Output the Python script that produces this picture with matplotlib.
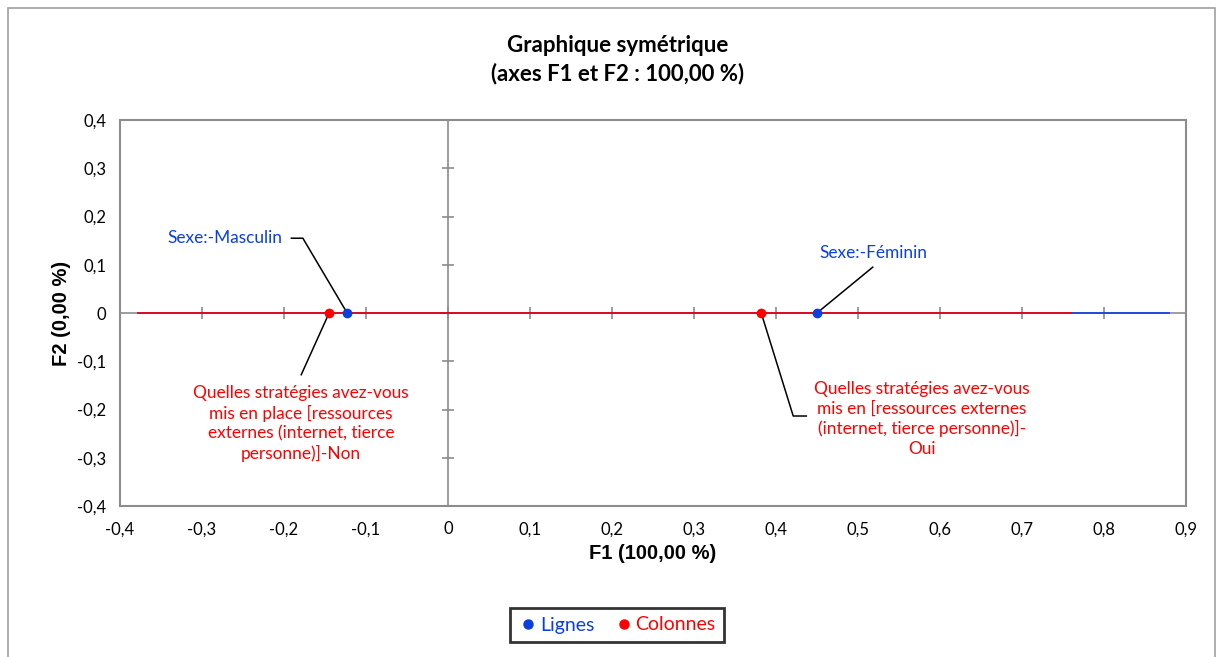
import matplotlib.pyplot as plt
import matplotlib.patches as patches
from matplotlib.lines import Line2D

# --- data ---
row_labels = ['Sexe:-Masculin', 'Sexe:-Féminin']
row_f1 = [-0.123, 0.450]
row_f2 = [0.0, 0.0]

col_labels = ['Quelles stratégies avez-vous\nmis en place [ressources\nexternes (internet, tierce\npersonne)]-Non',
              'Quelles stratégies avez-vous\nmis en [ressources externes\n(internet, tierce personne)]-\nOui']
col_f1 = [-0.145, 0.382]
col_f2 = [0.0, 0.0]

# extent of the lines drawn along F1 for each series
row_line_f1 = [-0.378, 0.879]
col_line_f1 = [-0.378, 0.760]

x_ticks = [-0.4, -0.3, -0.2, -0.1, 0, 0.1, 0.2, 0.3, 0.4, 0.5, 0.6, 0.7, 0.8, 0.9]
y_ticks = [-0.4, -0.3, -0.2, -0.1, 0, 0.1, 0.2, 0.3, 0.4]

BLUE = '#0A3FE0'
RED = '#FF0000'
GREY = '#8C8C8C'
TXT_FONT = 'Lato'


def fmt(v):
    if abs(v) < 1e-9:
        return '0'
    return ('%.1f' % v).replace('.', ',')


fig = plt.figure(figsize=(12.23, 6.57), dpi=100)
ax = fig.add_axes([120 / 1223, 151 / 657, 1066 / 1223, 386 / 657])

# outer chart border
fig.patches.append(patches.Rectangle((8 / 1223, -0.1), 1207 / 1223, 1.1 - 8 / 657,
                                     transform=fig.transFigure, fill=False,
                                     edgecolor='#A0A0A0', lw=1.2))

ax.set_xlim(-0.4, 0.9)
ax.set_ylim(-0.4, 0.4)
for s in ax.spines.values():
    s.set_color(GREY)
    s.set_linewidth(1.5)

ax.set_xticks(x_ticks)
ax.set_xticklabels([fmt(v) for v in x_ticks], fontfamily=TXT_FONT, fontsize=12)
ax.set_yticks(y_ticks)
ax.set_yticklabels([fmt(v) for v in y_ticks], fontfamily=TXT_FONT, fontsize=12)
ax.tick_params(length=0, pad=11)
ax.tick_params(axis='y', pad=10)

# inner axes through the origin with crossing ticks
ax.axhline(0, color=GREY, lw=1.2, zorder=1)
ax.axvline(0, color=GREY, lw=1.2, zorder=1)
ax.plot(x_ticks[1:-1], [0] * (len(x_ticks) - 2), ls='none', marker='|',
        color=GREY, ms=9, mew=1.2, zorder=1)
ax.plot([0] * (len(y_ticks) - 2), y_ticks[1:-1], ls='none', marker='_',
        color=GREY, ms=9, mew=1.2, zorder=1)

ax.plot(row_line_f1, [0, 0], color=BLUE, lw=1.2, zorder=2)
ax.plot(col_line_f1, [0, 0], color=RED, lw=1.2, zorder=2)

ax.scatter(row_f1, row_f2, color=BLUE, s=36, zorder=4)
ax.scatter(col_f1, col_f2, color=RED, s=36, zorder=4)

# labels with leader lines
lk = dict(color='black', lw=1.1, zorder=3)
afs = 12.4
# Masculin
ax.plot([row_f1[0], row_f1[0] - 0.054, row_f1[0] - 0.068], [0, 0.155, 0.155], **lk)
ax.text(row_f1[0] - 0.079, 0.155, row_labels[0], color=BLUE, ha='right', va='center',
        fontfamily=TXT_FONT, fontsize=afs)
# Feminin
ax.plot([row_f1[1], row_f1[1] + 0.068], [0, 0.095], **lk)
ax.text(row_f1[1] + 0.069, 0.124, row_labels[1], color=BLUE, ha='center', va='center',
        fontfamily=TXT_FONT, fontsize=afs)
# Non
ax.plot([col_f1[0], col_f1[0] - 0.034], [0, -0.128], **lk)
ax.text(col_f1[0] - 0.034, -0.229, col_labels[0], color=RED, ha='center', va='center',
        fontfamily=TXT_FONT, fontsize=afs, linespacing=1.26)
# Oui
ax.plot([col_f1[1], col_f1[1] + 0.039, col_f1[1] + 0.055], [0, -0.2135, -0.2135], **lk)
ax.text(col_f1[1] + 0.196, -0.219, col_labels[1], color=RED, ha='center', va='center',
        fontfamily=TXT_FONT, fontsize=afs, linespacing=1.26)

ax.set_xlabel('F1 (100,00 %)', fontfamily='Liberation Sans', fontweight='bold',
              fontsize=14.5, labelpad=5)
ax.set_ylabel('F2 (0,00 %)', fontfamily='Liberation Sans', fontweight='bold',
              fontsize=14.5, labelpad=4)

fig.text(618 / 1223, 1 - 46 / 657, 'Graphique symétrique', ha='center', va='center',
         fontfamily=TXT_FONT, fontweight='bold', fontsize=16)
fig.text(618 / 1223, 1 - 74 / 657, '(axes F1 et F2 : 100,00 %)', ha='center', va='center',
         fontfamily=TXT_FONT, fontweight='bold', fontsize=16)

handles = [Line2D([], [], ls='none', marker='o', color=BLUE, ms=6.5, label='Lignes'),
           Line2D([], [], ls='none', marker='o', color=RED, ms=6.5, label='Colonnes')]
leg = fig.legend(handles=handles, loc='center', bbox_to_anchor=(617 / 1223, 32 / 657),
                 ncol=2, frameon=True, fancybox=False, handletextpad=0.1,
                 columnspacing=1.0, handlelength=1.0, borderpad=0.45,
                 prop={'family': TXT_FONT, 'size': 14})
leg.get_frame().set_edgecolor('black')
leg.get_frame().set_linewidth(2)
for t, c in zip(leg.get_texts(), [BLUE, RED]):
    t.set_color(c)

fig.savefig('out.png', dpi=100)
